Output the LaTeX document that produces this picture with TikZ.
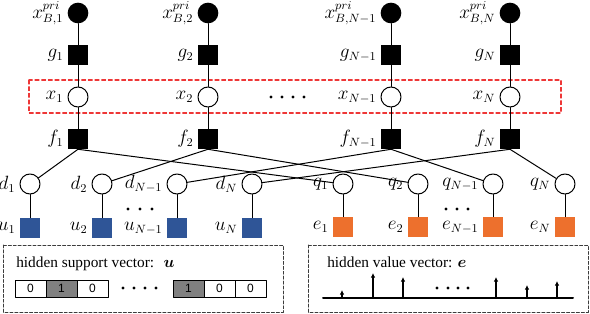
\documentclass[tikz,border=0pt]{standalone}
\usepackage{fontspec}
\setmainfont{Liberation Serif}
\newfontfamily\cellfont{Liberation Sans}
\usepackage{bm}
\usetikzlibrary{arrows.meta}

\begin{document}
\begin{tikzpicture}[x=0.75pt,y=-0.75pt,line cap=round,line join=round,
  label distance=2pt,
  lbl/.style={font=\fontsize{13.5}{15}\selectfont,inner sep=1pt},
  obs/.style={circle,fill=black,minimum size=15.5pt,inner sep=0pt},
  var/.style={circle,draw,fill=white,line width=0.75pt,minimum size=15pt,inner sep=0pt},
  fac/.style={rectangle,fill=black,minimum size=15pt,inner sep=0pt},
  bvar/.style={var,label distance=0pt},
  supp/.style={rectangle,fill=suppblue,minimum size=15pt,inner sep=0pt,label distance=1pt},
  val/.style={rectangle,fill=valorange,minimum size=15pt,inner sep=0pt,label distance=1pt},
  edge/.style={line width=0.75pt},
  cell/.style={rectangle,draw,line width=0.75pt,minimum width=23.25pt,minimum height=12.75pt,
    inner sep=0pt,font=\cellfont\fontsize{9}{10}\selectfont},
  title/.style={anchor=base west,inner sep=0pt,font=\fontsize{11.5}{13}\selectfont},
  spike/.style={line width=1.3pt,-{Latex[length=3.5pt,width=3.5pt]}}]
  \definecolor{suppblue}{RGB}{47,85,151}
  \definecolor{valorange}{RGB}{237,112,45}
  \definecolor{cellgray}{RGB}{128,128,128}
  \definecolor{boxred}{RGB}{238,55,55}
  \definecolor{boxgray}{RGB}{60,60,60}

  \useasboundingbox (0,0) rectangle (590,314);

  % prior nodes
  \node[obs,label={[lbl]left:$x^{pri}_{B,1}$}] (p1) at (78,13) {};
  \node[obs,label={[lbl]left:$x^{pri}_{B,2}$}] (p2) at (208,13) {};
  \node[obs,label={[lbl]left:$x^{pri}_{B,N-1}$}] (p3) at (391,13) {};
  \node[obs,label={[lbl]left:$x^{pri}_{B,N}$}] (p4) at (510,13) {};

  % prior factors
  \node[fac,label={[lbl]left:$g_1$}] (g1) at (78,55) {};
  \node[fac,label={[lbl]left:$g_2$}] (g2) at (208,55) {};
  \node[fac,label={[lbl]left:$g_{N-1}$}] (g3) at (391,55) {};
  \node[fac,label={[lbl]left:$g_N$}] (g4) at (510,55) {};

  % variable nodes (red frame)
  \draw[boxred,line width=0.8pt,dash pattern=on 3pt off 2pt] (29,80) rectangle (561,113);
  \node[var,label={[lbl]left:$x_1$}] (x1) at (78,97) {};
  \node[var,label={[lbl]left:$x_2$}] (x2) at (208,97) {};
  \node[var,label={[lbl]left:$x_{N-1}$}] (x3) at (391,97) {};
  \node[var,label={[lbl]left:$x_N$}] (x4) at (510,97) {};
  \fill[black] (271,97) circle (1.6) (282,97) circle (1.6) (293,97) circle (1.6) (304,97) circle (1.6);

  % split factors
  \node[fac,label={[lbl]left:$f_1$}] (f1) at (78,139) {};
  \node[fac,label={[lbl]left:$f_2$}] (f2) at (208,139) {};
  \node[fac,label={[lbl]left:$f_{N-1}$}] (f3) at (391,139) {};
  \node[fac,label={[lbl]left:$f_N$}] (f4) at (510,139) {};

  % support branch
  \node[bvar,label={[lbl]left:$d_1$}] (d1) at (30,184) {};
  \node[bvar,label={[lbl]left:$d_2$}] (d2) at (102,184) {};
  \node[bvar,label={[lbl]left:$d_{N-1}$}] (d3) at (177,184) {};
  \node[bvar,label={[lbl]left:$d_N$}] (d4) at (252,184) {};
  \node[supp,label={[lbl]left:$u_1$}] (u1) at (30,228) {};
  \node[supp,label={[lbl]left:$u_2$}] (u2) at (102,228) {};
  \node[supp,label={[lbl]left:$u_{N-1}$}] (u3) at (177,228) {};
  \node[supp,label={[lbl]left:$u_N$}] (u4) at (252,228) {};
  \fill[black] (128,209) circle (1.6) (140,209) circle (1.6) (152,209) circle (1.6);

  % value branch
  \node[bvar,label={[lbl]left:$q_1$}] (q1) at (343,184) {};
  \node[bvar,label={[lbl]left:$q_2$}] (q2) at (418,184) {};
  \node[bvar,label={[lbl]left:$q_{N-1}$}] (q3) at (493,184) {};
  \node[bvar,label={[lbl]left:$q_N$}] (q4) at (565,184) {};
  \node[val,label={[lbl]left:$e_1$}] (e1) at (343,227) {};
  \node[val,label={[lbl]left:$e_2$}] (e2) at (418,227) {};
  \node[val,label={[lbl]left:$e_{N-1}$}] (e3) at (493,227) {};
  \node[val,label={[lbl]left:$e_N$}] (e4) at (565,227) {};
  \fill[black] (446,209) circle (1.6) (457,209) circle (1.6) (468,209) circle (1.6);

  % edges
  \draw[edge] (p1) -- (g1) -- (x1) -- (f1);
  \draw[edge] (p2) -- (g2) -- (x2) -- (f2);
  \draw[edge] (p3) -- (g3) -- (x3) -- (f3);
  \draw[edge] (p4) -- (g4) -- (x4) -- (f4);
  \draw[edge] (f1.south) -- (d1); \draw[edge] (f1.south) -- (q1);
  \draw[edge] (f2.south) -- (d2); \draw[edge] (f2.south) -- (q2);
  \draw[edge] (f3.south) -- (d3); \draw[edge] (f3.south) -- (q3);
  \draw[edge] (f4.south) -- (d4); \draw[edge] (f4.south) -- (q4);
  \draw[edge] (d1) -- (u1); \draw[edge] (d2) -- (u2);
  \draw[edge] (d3) -- (u3); \draw[edge] (d4) -- (u4);
  \draw[edge] (q1) -- (e1); \draw[edge] (q2) -- (e2);
  \draw[edge] (q3) -- (e3); \draw[edge] (q4) -- (e4);

  % support vector box
  \draw[boxgray,line width=0.75pt,dash pattern=on 2.2pt off 1.5pt] (3,245) rectangle (283,312);
  \node[title] (utitle) at (16,267) {hidden support vector:\hspace{7pt}$\bm{u}$};
  \node[cell] (c1) at (30.5,288.5) {0};
  \node[cell,fill=cellgray] (c2) at (61.5,288.5) {1};
  \node[cell] (c3) at (92.5,288.5) {0};
  \fill[black] (123,288) circle (1.6) (134,288) circle (1.6) (145,288) circle (1.6) (156,288) circle (1.6);
  \node[cell,fill=cellgray] (c4) at (188.5,288.5) {1};
  \node[cell] (c5) at (219.5,288.5) {0};
  \node[cell] (c6) at (250.5,288.5) {0};

  % value vector box
  \draw[boxgray,line width=0.75pt,dash pattern=on 2.2pt off 1.5pt] (308,245) rectangle (588,312);
  \node[title] (etitle) at (327,267) {hidden value vector: $\bm{e}$};
  \draw[line width=1.5pt] (323,298) -- (573,298);
  \draw[spike] (342,298) -- (342,290);
  \draw[spike] (373,298) -- (373,273);
  \draw[spike] (403,298) -- (403,277);
  \draw[spike] (496,298) -- (496,277);
  \draw[spike] (527,298) -- (527,285);
  \draw[spike] (557,298) -- (557,281);
  \fill[black] (437,288) circle (1.6) (448,288) circle (1.6) (458,288) circle (1.6) (468,288) circle (1.6);
\end{tikzpicture}
\end{document}
